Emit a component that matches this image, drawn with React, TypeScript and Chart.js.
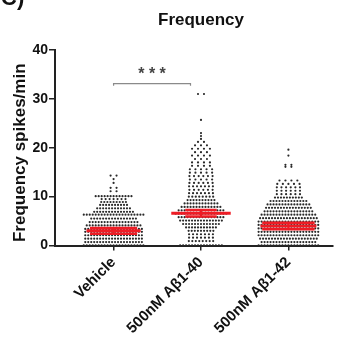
import { useEffect, useRef } from "react";
import { Chart, registerables } from "chart.js";

Chart.register(...registerables);

// ---------- data ----------
const categories = ["Vehicle", "500nM Aβ1-40", "500nM Aβ1-42"];

// each row of the dot plot: value (spikes/min) and number of cells at that value
const vehicleLevels = [0.05, 0.7, 1.4, 2.1, 2.8, 3.4, 4.1, 4.8, 5.5, 6.3, 6.9, 7.6, 8.3, 8.9, 9.5, 10.1, 11.1, 11.8, 12.8, 13.6, 14.3];
const vehicleCounts = [21, 20, 20, 20, 20, 20, 19, 17, 16, 21, 14, 12, 10, 9, 7, 13, 2, 2, 1, 1, 2];

const ab40Levels = [0.05, 0.9, 1.6, 2.3, 3.0, 3.7, 4.4, 5.1, 5.8, 6.5, 7.2, 7.9, 8.6, 9.3, 10.0, 10.7, 11.4, 12.1, 12.8, 13.5, 14.2, 14.9, 15.6, 16.3, 17.0, 17.7, 18.4, 19.1, 19.8, 20.5, 21.2, 21.8, 22.4, 23.0, 25.7, 31.0];
const ab40Counts = [15, 8, 7, 7, 9, 11, 13, 15, 16, 18, 16, 14, 12, 10, 8, 7, 6, 7, 6, 5, 6, 5, 5, 4, 4, 3, 4, 3, 4, 3, 2, 1, 1, 1, 1, 2];

const ab42Levels = [0.05, 0.7, 1.4, 2.1, 2.8, 3.5, 4.2, 4.9, 5.6, 6.3, 7.0, 7.7, 8.4, 9.1, 9.8, 10.5, 11.2, 11.9, 12.6, 13.3, 16.1, 16.5, 18.4, 19.6];
const ab42Counts = [21, 19, 20, 21, 21, 21, 21, 21, 20, 19, 17, 16, 15, 13, 10, 6, 6, 6, 5, 4, 2, 2, 1, 1];

const means = [3.0, 6.6, 4.0];
const errors = [0.6, 0.65, 0.65];

const yTicks = [0, 10, 20, 30, 40];
const sigFrom = [0];
const sigTo = [0.88];
const sigY = [33.1];
const sigLabel = ["* * *"];

// ---------- styles ----------
const PX_PER_CAT = 88;
const MEAN_HALF = [0.31, 0.34, 0.32];
const CAP_HALF = [0.27, 0.18, 0.3];
const RED = "#ee1c25";
const DOT = "#2a2a2a";
const FONT = "'Liberation Sans', Arial, sans-serif";

function swarm(levels: number[], counts: number[], cat: number) {
  const pts: { x: number; y: number }[] = [];
  levels.forEach((v, i) => {
    const n = counts[i];
    const stepPx = Math.max(3, Math.min(6, 28 / n));
    const step = stepPx / PX_PER_CAT;
    for (let k = 0; k < n; k++) {
      pts.push({ x: cat + (k - (n - 1) / 2) * step, y: v });
    }
  });
  return pts;
}

const textPlugin = {
  id: "texts",
  afterDraw(chart: any) {
    const { ctx, chartArea, scales } = chart;
    ctx.save();
    ctx.fillStyle = "#111";
    ctx.font = `bold 22px ${FONT}`;
    ctx.textAlign = "left";
    ctx.textBaseline = "alphabetic";
    ctx.fillText("C)", 1, 5);
    ctx.font = `bold 17px ${FONT}`;
    ctx.textAlign = "center";
    ctx.fillText("Frequency", scales.x.getPixelForValue(1), 25);
    ctx.save();
    ctx.translate(25, (chartArea.top + chartArea.bottom) / 2 + 5);
    ctx.rotate(-Math.PI / 2);
    ctx.font = `bold 17px ${FONT}`;
    ctx.textAlign = "center";
    ctx.fillText("Frequency spikes/min", 0, 0);
    ctx.restore();
    ctx.fillStyle = "#444";
    ctx.font = `bold 16px ${FONT}`;
    ctx.textAlign = "center";
    ctx.textBaseline = "middle";
    sigLabel.forEach((t, i) => {
      const x = scales.x.getPixelForValue((sigFrom[i] + sigTo[i]) / 2);
      const y = scales.y.getPixelForValue(sigY[i]) - 9;
      ctx.fillText(t, x, y);
    });
    ctx.restore();
  },
};

export default function App() {
  const ref = useRef<HTMLCanvasElement | null>(null);

  useEffect(() => {
    document.body.style.margin = "0";
    const canvas = ref.current;
    if (!canvas) return;

    const groups = [
      swarm(vehicleLevels, vehicleCounts, 0),
      swarm(ab40Levels, ab40Counts, 1),
      swarm(ab42Levels, ab42Counts, 2),
    ];

    const datasets: any[] = groups.map((g) => ({
      data: g,
      pointRadius: 1.1,
      pointBackgroundColor: DOT,
      pointBorderWidth: 0,
      showLine: false,
      order: 2,
    }));

    means.forEach((m, i) => {
      const e = errors[i];
      const line = (pts: { x: number; y: number }[], w: number) => ({
        data: pts,
        showLine: true,
        borderColor: RED,
        borderWidth: w,
        pointRadius: 0,
        order: 0,
      });
      datasets.push(line([{ x: i - MEAN_HALF[i], y: m }, { x: i + MEAN_HALF[i], y: m }], 3));
      datasets.push(line([{ x: i - CAP_HALF[i], y: m + e }, { x: i + CAP_HALF[i], y: m + e }], 2.5));
      datasets.push(line([{ x: i - CAP_HALF[i], y: m - e }, { x: i + CAP_HALF[i], y: m - e }], 2.5));
      datasets.push(line([{ x: i, y: m - e }, { x: i, y: m + e }], 2));
    });

    sigFrom.forEach((f, i) => {
      datasets.push({
        data: [
          { x: f, y: sigY[i] - 0.4 },
          { x: f, y: sigY[i] },
          { x: sigTo[i], y: sigY[i] },
          { x: sigTo[i], y: sigY[i] - 0.4 },
        ],
        showLine: true,
        borderColor: "#8a8a8a",
        borderWidth: 1.2,
        pointRadius: 0,
        order: 1,
      });
    });

    const chart = new Chart(canvas, {
      type: "scatter",
      data: { datasets },
      plugins: [textPlugin],
      options: {
        animation: false,
        responsive: false,
        layout: { padding: { top: 50, right: 2, left: 0, bottom: 0 } },
        plugins: { legend: { display: false }, tooltip: { enabled: false }, title: { display: false } },
        scales: {
          x: {
            type: "linear",
            min: -0.67,
            max: 2.51,
            afterBuildTicks: (s: any) => {
              s.ticks = categories.map((_, i) => ({ value: i }));
            },
            afterFit: (s: any) => {
              s.height = 99.5;
            },
            ticks: {
              autoSkip: false,
              minRotation: 45,
              maxRotation: 45,
              padding: 3,
              color: "#111",
              font: { family: FONT, size: 15, weight: "bold" },
              callback: (v: any) => categories[Math.round(Number(v))] ?? "",
            },
            grid: { drawOnChartArea: false, drawTicks: true, tickLength: 5, color: "#222", lineWidth: 1.5 },
            border: { display: true, color: "#222", width: 2 },
          },
          y: {
            type: "linear",
            min: 0,
            max: 40,
            afterBuildTicks: (s: any) => {
              s.ticks = yTicks.map((v) => ({ value: v }));
            },
            afterFit: (s: any) => {
              s.width = 55;
            },
            ticks: {
              padding: 1,
              color: "#111",
              font: { family: FONT, size: 14, weight: "bold" },
            },
            grid: { drawOnChartArea: false, drawTicks: true, tickLength: 6, color: "#222", lineWidth: 1.5 },
            border: { display: true, color: "#222", width: 2 },
          },
        },
      } as any,
    });

    return () => chart.destroy();
  }, []);

  return <canvas ref={ref} width={337} height={345} style={{ display: "block" }} />;
}
